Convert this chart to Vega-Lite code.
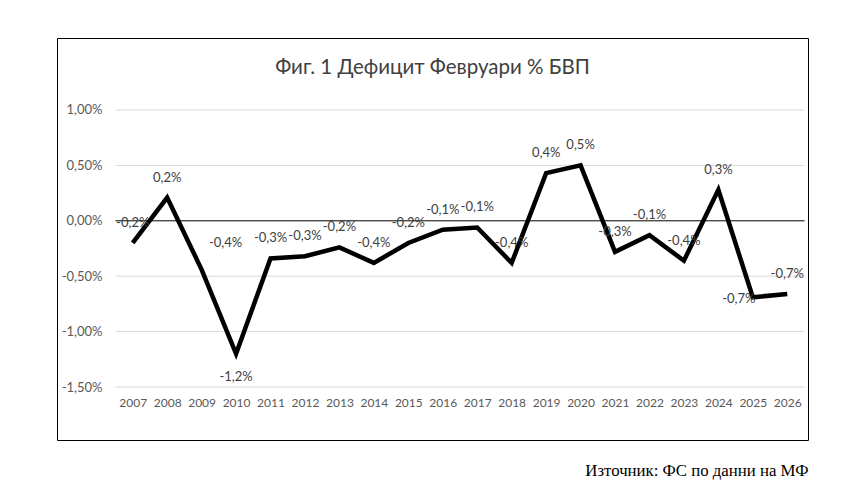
{
  "$schema": "https://vega.github.io/schema/vega-lite/v6.json",
  "width": 751,
  "height": 402,
  "autosize": {"type": "none"},
  "padding": {"left": 57, "top": 38, "right": 43, "bottom": 60},
  "background": "white",
  "title": {
    "text": "Фиг. 1 Дефицит Февруари % БВП",
    "anchor": "middle",
    "frame": "group",
    "offset": -40,
    "font": "Lato, Open Sans",
    "fontSize": 20.5,
    "fontWeight": "normal",
    "color": "#404040"
  },
  "datasets": {
    "series": [
      {"year": 2007, "v": -0.0020},
      {"year": 2008, "v": 0.0021},
      {"year": 2009, "v": -0.0044},
      {"year": 2010, "v": -0.0120},
      {"year": 2011, "v": -0.0034},
      {"year": 2012, "v": -0.0032},
      {"year": 2013, "v": -0.0024},
      {"year": 2014, "v": -0.0038},
      {"year": 2015, "v": -0.0020},
      {"year": 2016, "v": -0.0008},
      {"year": 2017, "v": -0.0006},
      {"year": 2018, "v": -0.0038},
      {"year": 2019, "v": 0.0043},
      {"year": 2020, "v": 0.0050},
      {"year": 2021, "v": -0.0028},
      {"year": 2022, "v": -0.0013},
      {"year": 2023, "v": -0.0036},
      {"year": 2024, "v": 0.0028},
      {"year": 2025, "v": -0.0069},
      {"year": 2026, "v": -0.0066}
    ],
    "grid": [{"g": 0.01}, {"g": 0.005}, {"g": -0.005}, {"g": -0.01}, {"g": -0.015}],
    "zero": [{"g": 0}]
  },
  "layer": [
    {
      "data": {"name": "grid"},
      "mark": {"type": "rule", "color": "#d9d9d9", "strokeWidth": 1},
      "encoding": {
        "x": {"datum": 2006.5, "type": "quantitative",
          "axis": {"values": [2007, 2008, 2009, 2010, 2011, 2012, 2013, 2014, 2015, 2016, 2017, 2018, 2019, 2020, 2021, 2022, 2023, 2024, 2025, 2026], "title": "Източник: ФС по данни на МФ", "labelOverlap": false, "labelFlush": false}},
        "x2": {"datum": 2026.5},
        "y": {"field": "g", "type": "quantitative",
          "axis": {"values": [-0.015, -0.01, -0.005, 0, 0.005, 0.01], "title": null, "labelOverlap": false}}
      }
    },
    {
      "data": {"name": "zero"},
      "mark": {"type": "rule", "color": "#000000", "strokeWidth": 1},
      "encoding": {
        "x": {"datum": 2006.5, "type": "quantitative",
          "axis": {"values": [2007, 2008, 2009, 2010, 2011, 2012, 2013, 2014, 2015, 2016, 2017, 2018, 2019, 2020, 2021, 2022, 2023, 2024, 2025, 2026], "title": "Източник: ФС по данни на МФ", "labelOverlap": false, "labelFlush": false}},
        "x2": {"datum": 2026.5},
        "y": {"field": "g", "type": "quantitative",
          "axis": {"values": [-0.015, -0.01, -0.005, 0, 0.005, 0.01], "title": null, "labelOverlap": false}}
      }
    },
    {
      "data": {"name": "series"},
      "mark": {"type": "line", "color": "#000000", "strokeWidth": 4.5, "strokeJoin": "miter"},
      "encoding": {
        "x": {
          "field": "year",
          "type": "quantitative",
          "scale": {"domain": [2004.802, 2026.602], "nice": false, "zero": false},
          "axis": {"values": [2007, 2008, 2009, 2010, 2011, 2012, 2013, 2014, 2015, 2016, 2017, 2018, 2019, 2020, 2021, 2022, 2023, 2024, 2025, 2026], "title": "Източник: ФС по данни на МФ", "labelOverlap": false, "labelFlush": false}
        },
        "y": {
          "field": "v",
          "type": "quantitative",
          "scale": {"domain": [-0.019783, 0.016498], "nice": false, "zero": false},
          "axis": {"values": [-0.015, -0.01, -0.005, 0, 0.005, 0.01], "title": null, "labelOverlap": false}
        }
      }
    },
    {
      "data": {"name": "series"},
      "transform": [{"filter": "datum.year != 2009 && datum.year != 2010 && datum.year != 2025"}],
      "mark": {"type": "text", "dy": -20, "font": "Lato", "fontSize": 13, "color": "#404040"},
      "encoding": {
        "x": {"field": "year", "type": "quantitative",
          "axis": {"values": [2007, 2008, 2009, 2010, 2011, 2012, 2013, 2014, 2015, 2016, 2017, 2018, 2019, 2020, 2021, 2022, 2023, 2024, 2025, 2026], "title": "Източник: ФС по данни на МФ", "labelOverlap": false, "labelFlush": false}},
        "y": {"field": "v", "type": "quantitative",
          "axis": {"values": [-0.015, -0.01, -0.005, 0, 0.005, 0.01], "title": null, "labelOverlap": false}},
        "text": {"field": "v", "type": "quantitative", "format": ".1%"}
      }
    },
    {
      "data": {"name": "series"},
      "transform": [{"filter": "datum.year == 2010"}],
      "mark": {"type": "text", "dy": 23, "font": "Lato", "fontSize": 13, "color": "#404040"},
      "encoding": {
        "x": {"field": "year", "type": "quantitative",
          "axis": {"values": [2007, 2008, 2009, 2010, 2011, 2012, 2013, 2014, 2015, 2016, 2017, 2018, 2019, 2020, 2021, 2022, 2023, 2024, 2025, 2026], "title": "Източник: ФС по данни на МФ", "labelOverlap": false, "labelFlush": false}},
        "y": {"field": "v", "type": "quantitative",
          "axis": {"values": [-0.015, -0.01, -0.005, 0, 0.005, 0.01], "title": null, "labelOverlap": false}},
        "text": {"field": "v", "type": "quantitative", "format": ".1%"}
      }
    },
    {
      "data": {"name": "series"},
      "transform": [{"filter": "datum.year == 2025"}],
      "mark": {"type": "text", "dx": -14, "dy": 2, "font": "Lato", "fontSize": 13, "color": "#404040"},
      "encoding": {
        "x": {"field": "year", "type": "quantitative",
          "axis": {"values": [2007, 2008, 2009, 2010, 2011, 2012, 2013, 2014, 2015, 2016, 2017, 2018, 2019, 2020, 2021, 2022, 2023, 2024, 2025, 2026], "title": "Източник: ФС по данни на МФ", "labelOverlap": false, "labelFlush": false}},
        "y": {"field": "v", "type": "quantitative",
          "axis": {"values": [-0.015, -0.01, -0.005, 0, 0.005, 0.01], "title": null, "labelOverlap": false}},
        "text": {"field": "v", "type": "quantitative", "format": ".1%"}
      }
    },
    {
      "data": {"name": "series"},
      "transform": [{"filter": "datum.year == 2009"}],
      "mark": {"type": "text", "dx": 24, "dy": -27, "font": "Lato", "fontSize": 13, "color": "#404040"},
      "encoding": {
        "x": {"field": "year", "type": "quantitative",
          "axis": {"values": [2007, 2008, 2009, 2010, 2011, 2012, 2013, 2014, 2015, 2016, 2017, 2018, 2019, 2020, 2021, 2022, 2023, 2024, 2025, 2026], "title": "Източник: ФС по данни на МФ", "labelOverlap": false, "labelFlush": false}},
        "y": {"field": "v", "type": "quantitative",
          "axis": {"values": [-0.015, -0.01, -0.005, 0, 0.005, 0.01], "title": null, "labelOverlap": false}},
        "text": {"field": "v", "type": "quantitative", "format": ".1%"}
      }
    }
  ],
  "config": {
    "locale": {
      "number": {
        "decimal": ",",
        "thousands": " ",
        "grouping": [3],
        "currency": ["", " лв."],
        "minus": "-"
      }
    },
    "axisX": {
      "format": "d",
      "labelFont": "Lato",
      "labelFontSize": 12,
      "labelColor": "#595959",
      "labelBaseline": "top",
      "labelOverlap": false,
      "labelFlush": false,
      "grid": false,
      "domain": false,
      "ticks": false,
      "tickSize": 0,
      "labelPadding": 0,
      "offset": -43,
      "titleFont": "Liberation Serif",
      "titleFontSize": 16.8,
      "titleFontWeight": "normal",
      "titleColor": "#000000",
      "titleAlign": "right",
      "titleAnchor": "end",
      "titleX": 751,
      "titleY": 73,
      "titleBaseline": "middle"
    },
    "axisY": {
      "format": ".2%",
      "labelFont": "Lato",
      "labelFontSize": 13,
      "labelColor": "#595959",
      "labelOverlap": false,
      "grid": false,
      "domain": false,
      "ticks": false,
      "tickSize": 0,
      "labelPadding": 0,
      "offset": -45
    },
    "view": {"stroke": "#000000", "strokeWidth": 1}
  }
}
